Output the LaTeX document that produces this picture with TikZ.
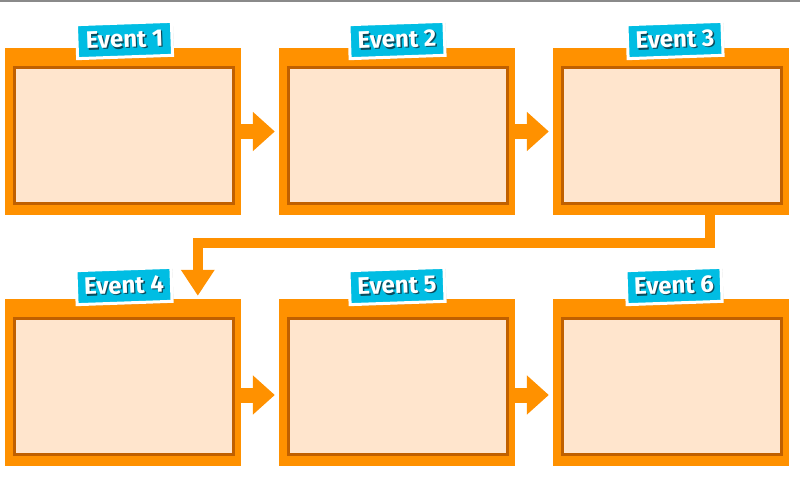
\documentclass[tikz,border=0pt]{standalone}
\usepackage{fontspec}
\newfontfamily\evfont{Fira Sans}
\usetikzlibrary{arrows.meta,shadows}

\definecolor{boxorange}{HTML}{FF9100}
\definecolor{boxedge}{HTML}{C06000}
\definecolor{boxfill}{HTML}{FFE5CD}
\definecolor{tagblue}{HTML}{00BDE3}
\definecolor{tagshade}{HTML}{0A4A5C}
\definecolor{rulegray}{HTML}{8A8A8A}

% white lettering with a dark offset copy behind it
\newcommand{\evtext}[1]{%
  \makebox[0pt][l]{\hspace{1.3pt}\raisebox{-1.3pt}{\color{tagshade}#1}}%
  \color{white}#1}

\tikzset{
  eventbox/.style={rectangle, fill=boxorange, minimum width=236pt,
    minimum height=167pt, inner sep=0pt},
  innerframe/.style={draw=boxedge, fill=boxfill, line width=3.5pt},
  tag/.style={rectangle, fill=tagblue, draw=white, line width=3pt,
    minimum width=95pt, minimum height=34pt, inner sep=0pt, rotate=2,
    font=\evfont\bfseries\fontsize{24}{26}\selectfont,
    drop shadow={shadow xshift=1.5pt, shadow yshift=-1.5pt, opacity=0.35}},
  flow/.style={draw=boxorange, line width=15pt,
    -{Triangle[width=38pt,length=22pt]}, shorten >=4pt},
  wrapflow/.style={draw=boxorange, line width=10pt, line join=miter,
    -{Triangle[width=32pt,length=26pt]}}
}

\begin{document}
\begin{tikzpicture}[x=1pt,y=-1pt]
  \useasboundingbox (0,0) rectangle (800,478);
  \fill[white] (0,0) rectangle (800,478);
  \fill[rulegray] (0,0) rectangle (800,2);

  % the six event panels
  \foreach \name/\cx/\cy in {b1/123/131.5, b2/397/131.5, b3/671/131.5,
                             b4/123/382.5, b5/397/382.5, b6/671/382.5} {
    \node[eventbox] (\name) at (\cx,\cy) {};
    \draw[innerframe] ([xshift=9.75pt,yshift=-19.75pt]\name.north west)
      rectangle ([xshift=-7.75pt,yshift=11.75pt]\name.south east);
  }

  % arrows along each row
  \draw[flow] (b1.east) -- (b2.west);
  \draw[flow] (b2.east) -- (b3.west);
  \draw[flow] ([yshift=-12.5pt]b4.east) -- ([yshift=-12.5pt]b5.west);
  \draw[flow] ([yshift=-12.5pt]b5.east) -- ([yshift=-12.5pt]b6.west);

  % return path from the end of the first row to the start of the second
  \coordinate (out3) at ([xshift=-79pt]b3.south east);
  \coordinate (in4) at ([xshift=193pt,yshift=3pt]b4.north west);
  \draw[wrapflow] (out3) -- (out3 |- 0,243) -- (in4 |- 0,243) -- (in4);

  % event tags
  \node[tag] (t1) at (124.5,40) {\evtext{Event 1}};
  \node[tag] (t2) at (397,40) {\evtext{Event 2}};
  \node[tag] (t3) at (675,40) {\evtext{Event 3}};
  \node[tag] (t4) at (124,286) {\evtext{Event 4}};
  \node[tag] (t5) at (397,286) {\evtext{Event 5}};
  \node[tag] (t6) at (674,286) {\evtext{Event 6}};
\end{tikzpicture}
\end{document}
